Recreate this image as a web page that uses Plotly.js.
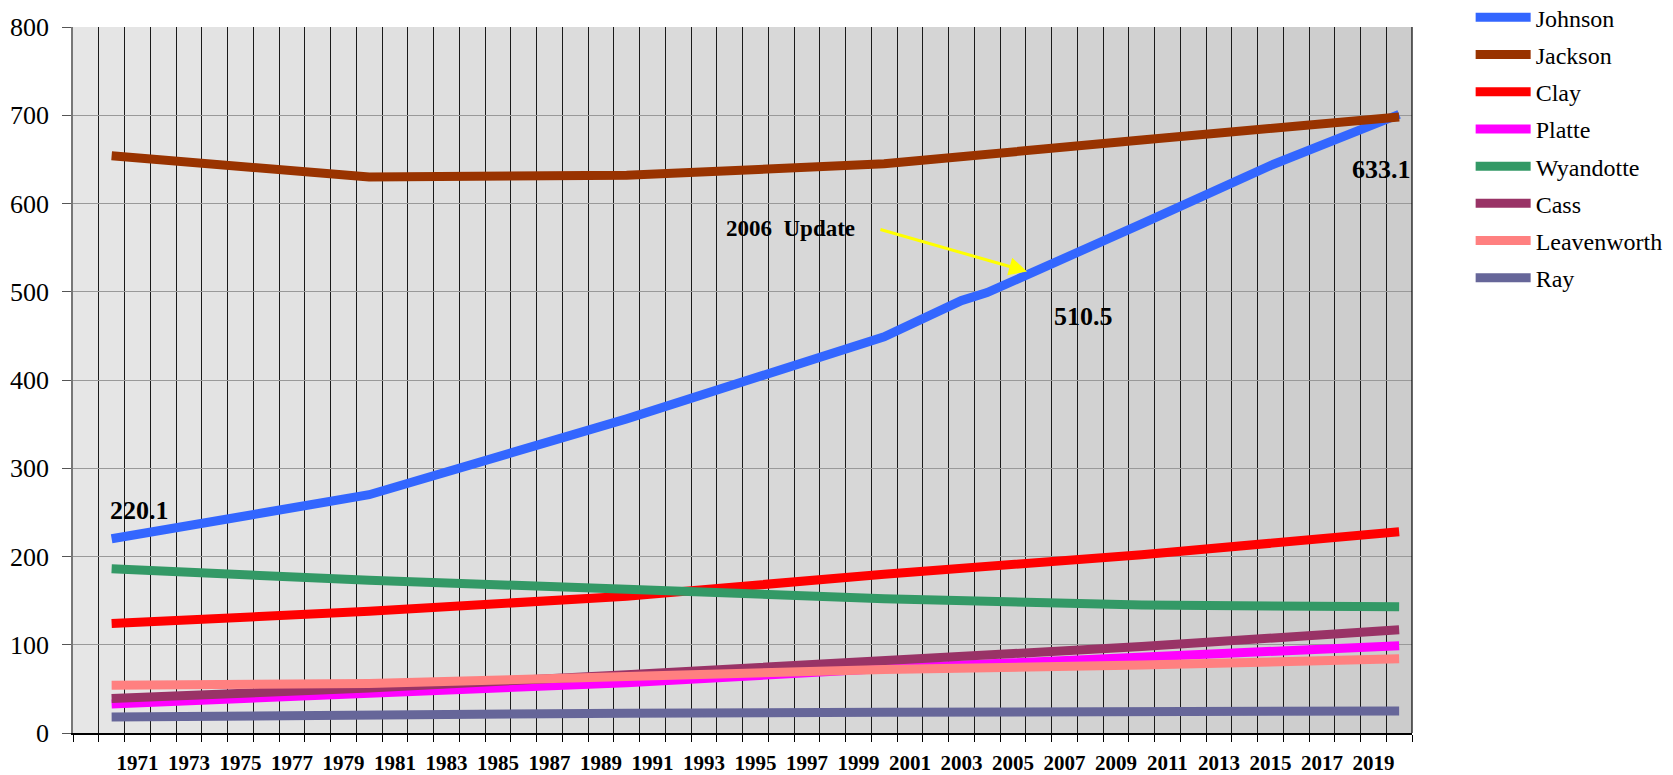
<!DOCTYPE html>
<html>
<head>
<meta charset="utf-8">
<script src="https://cdn.plot.ly/plotly-3.0.1.min.js"></script>
<style>
  html, body { margin: 0; padding: 0; background: #ffffff; }
  #chart { width: 1673px; height: 775px; }
</style>
</head>
<body>
<div id="chart"></div>
<script>
// ---- data ----
const years = [1970, 1980, 1990, 2000, 2010, 2020];
const johnsonYears = [1970, 1980, 1990, 2000, 2003, 2004, 2010, 2015, 2020];
const johnson = [220.1, 270, 356, 449, 490, 499, 577, 643, 701];
const jackson = [654, 630, 632, 645, 672, 698];
const clay = [124, 138, 155, 180, 202, 228];
const platte = [33, 45, 57, 73, 85, 99];
const wyandotte = [186, 173, 163, 152, 145, 143];
const cass = [39, 51, 66, 81, 98, 117];
const leavenworth = [54, 56, 64, 72, 77, 84];
const ray = [18, 21.5, 22.5, 23.5, 24, 25];

const seriesNames = ["Johnson", "Jackson", "Clay", "Platte", "Wyandotte", "Cass", "Leavenworth", "Ray"];
const seriesColors = ["#3366FF", "#993300", "#FF0000", "#FF00FF", "#339966", "#993366", "#FF8080", "#666699"];
const seriesX = [johnsonYears, years, years, years, years, years, years, years];
const seriesY = [johnson, jackson, clay, platte, wyandotte, cass, leavenworth, ray];

const tickLabelYears = [1971, 1973, 1975, 1977, 1979, 1981, 1983, 1985, 1987, 1989, 1991, 1993, 1995, 1997, 1999, 2001, 2003, 2005, 2007, 2009, 2011, 2013, 2015, 2017, 2019];
const firstCategory = 1969;
const lastCategory = 2020;

// annotation labels
const labelYears = [1971.1, 2007.75, 2019.3];
const labelValues = [252, 472, 638];
const labelTexts = ["220.1", "510.5", "633.1"];
const noteText = "2006&nbsp;&nbsp;Update";
const noteYear = 1996.35, noteValue = 572;
const arrowTailYear = 1999.8, arrowTailValue = 571;
const arrowHeadYear = 2005.55, arrowHeadValue = 523;

// ---- build ----
const FONT = "Liberation Serif";

const traces = seriesNames.map((n, i) => ({
  type: "scatter",
  mode: "lines",
  name: n,
  legendgroup: n,
  x: seriesX[i],
  y: seriesY[i],
  line: { color: seriesColors[i], width: 9 },
  hoverinfo: "x+y+name"
}));

// background gradient bands, light on the left, darker on the right
const shapes = [];
const nCat = lastCategory - firstCategory + 1;
for (let k = 0; k < nCat; k++) {
  const c = Math.round(230 - (26 * k) / (nCat - 1));
  shapes.push({
    type: "rect", layer: "below", xref: "x", yref: "paper",
    x0: firstCategory + k - 0.5, x1: firstCategory + k + 0.5, y0: 0, y1: 1,
    fillcolor: `rgb(${c},${c},${c})`, line: { width: 0 }
  });
}
shapes.push({ type: "line", xref: "paper", yref: "paper", x0: 1, x1: 1, y0: 0, y1: 1, line: { color: "#000000", width: 1.2 } });

const annotations = labelTexts.map((t, i) => ({
  x: labelYears[i], y: labelValues[i], xref: "x", yref: "y",
  text: "<b>" + t + "</b>", showarrow: false,
  font: { family: FONT, size: 26, color: "#000000" }
}));
annotations.push({
  x: noteYear, y: noteValue, xref: "x", yref: "y",
  text: "<b>" + noteText + "</b>", showarrow: false,
  font: { family: FONT, size: 23, color: "#000000" }
});
annotations.push({
  x: arrowHeadYear, y: arrowHeadValue, xref: "x", yref: "y",
  ax: arrowTailYear, ay: arrowTailValue, axref: "x", ayref: "y",
  text: "", showarrow: true, arrowhead: 2, arrowsize: 1.2, arrowwidth: 3,
  arrowcolor: "#FFFF00", standoff: 0, startstandoff: 0
});

const layout = {
  width: 1673, height: 775,
  margin: { l: 73, r: 261, t: 27, b: 42, autoexpand: false },
  paper_bgcolor: "#ffffff",
  plot_bgcolor: "rgba(0,0,0,0)",
  font: { family: FONT },
  showlegend: true,
  legend: {
    x: 1.0438, xanchor: "left", y: 1.045, yanchor: "top",
    itemwidth: 55,
    font: { family: FONT, size: 24, color: "#000000" },
    bgcolor: "rgba(0,0,0,0)", traceorder: "grouped", tracegroupgap: 3
  },
  xaxis: {
    range: [firstCategory - 0.5, lastCategory + 0.5],
    tickmode: "array", tickvals: tickLabelYears, ticktext: tickLabelYears.map(String),
    ticks: "", showgrid: false, zeroline: false,
    showline: true, linecolor: "#000000", linewidth: 1.5,
    ticklabelstandoff: 10,
    tickfont: { family: FONT, size: 21, color: "#000000", weight: "bold" },
    minor: {
      tickmode: "linear", tick0: firstCategory - 0.5, dtick: 1,
      ticks: "outside", ticklen: 7, tickwidth: 1.2, tickcolor: "#000000",
      showgrid: true, gridcolor: "#1a1a1a", gridwidth: 1
    },
    fixedrange: true
  },
  yaxis: {
    range: [0, 800], tickmode: "linear", tick0: 0, dtick: 100,
    ticks: "outside", ticklen: 9, tickcolor: "#555555", tickwidth: 1,
    showgrid: true, gridcolor: "#999999", gridwidth: 1,
    zeroline: false, showline: true, linecolor: "#777777", linewidth: 1.5,
    ticklabelstandoff: 8,
    tickfont: { family: FONT, size: 26, color: "#000000" },
    fixedrange: true
  },
  shapes: shapes,
  annotations: annotations
};

Plotly.newPlot("chart", traces, layout, { displayModeBar: false });
</script>
</body>
</html>
